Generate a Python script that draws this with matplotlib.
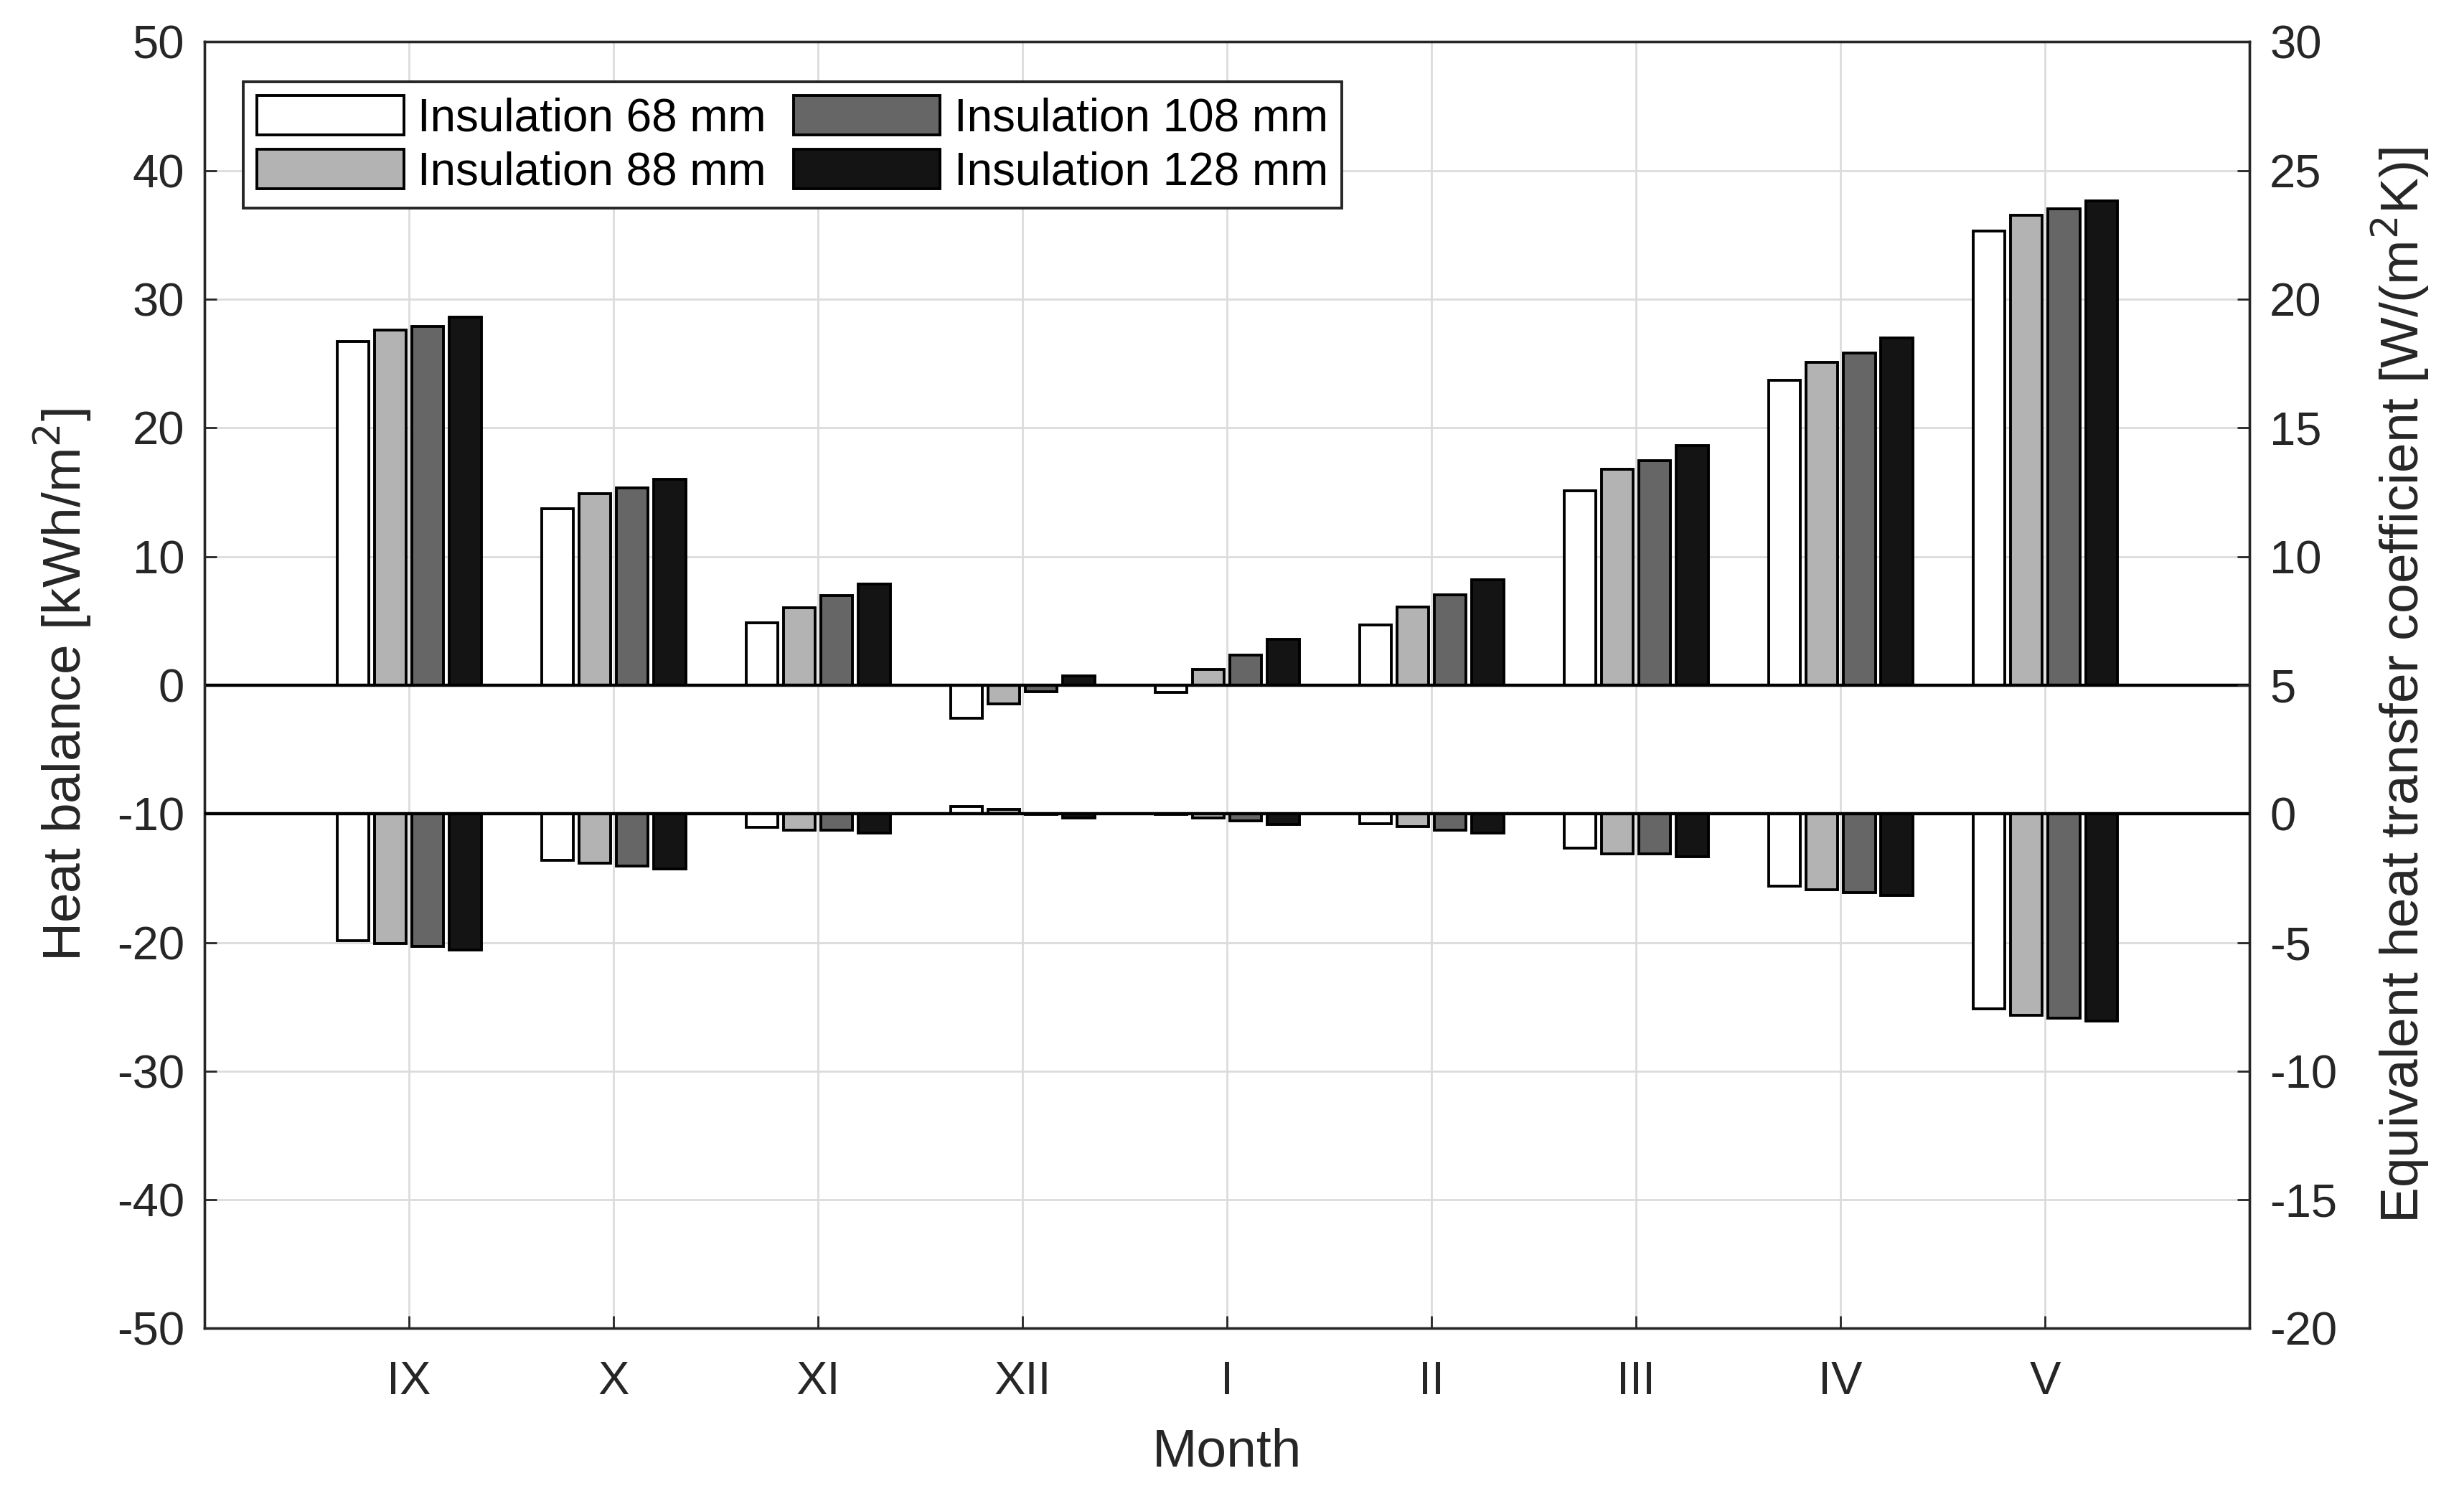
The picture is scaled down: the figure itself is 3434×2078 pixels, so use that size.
import matplotlib
matplotlib.use("Agg")
import matplotlib.pyplot as plt
import numpy as np

plt.rcParams['font.family'] = ['Liberation Sans', 'DejaVu Sans']
plt.rcParams['axes.unicode_minus'] = False

months = ["IX", "X", "XI", "XII", "I", "II", "III", "IV", "V"]
series = ["Insulation 68 mm", "Insulation 88 mm", "Insulation 108 mm", "Insulation 128 mm"]
colors = ["#ffffff", "#b3b3b3", "#666666", "#141414"]

# Heat balance [kWh/m2] (left axis)
heat_68 = [26.7, 13.7, 4.83, -2.58, -0.54, 4.67, 15.1, 23.7, 35.3]
heat_88 = [27.6, 14.9, 6.02, -1.46, 1.20, 6.07, 16.75, 25.08, 36.5]
heat_108 = [27.9, 15.3, 6.95, -0.50, 2.36, 7.00, 17.46, 25.8, 37.0]
heat_128 = [28.6, 16.0, 7.86, 0.74, 3.54, 8.19, 18.6, 27.0, 37.65]

# Equivalent heat transfer coefficient [W/(m2K)] (right axis)
coef_68 = [-4.92, -1.80, -0.52, 0.27, -0.02, -0.38, -1.32, -2.82, -7.59]
coef_88 = [-5.04, -1.92, -0.63, 0.16, -0.16, -0.51, -1.55, -2.94, -7.82]
coef_108 = [-5.15, -2.03, -0.63, -0.02, -0.28, -0.63, -1.55, -3.07, -7.93]
coef_128 = [-5.29, -2.15, -0.75, -0.17, -0.40, -0.74, -1.67, -3.18, -8.05]

heat = [heat_68, heat_88, heat_108, heat_128]
coef = [coef_68, coef_88, coef_108, coef_128]

fig = plt.figure(figsize=(17.17, 10.39), dpi=200)
ax = fig.add_axes([0.083, 0.109, 0.830, 0.863])
ax2 = ax.twinx()

x = np.arange(1, len(months) + 1)
offsets = [-0.275, -0.092, 0.092, 0.275]
width = 0.155
lw = 1.4

handles = []
for i in range(4):
    h = ax.bar(x + offsets[i], heat[i], width, color=colors[i], edgecolor='black',
               linewidth=lw, zorder=3, label=series[i])
    handles.append(h)
    ax2.bar(x + offsets[i], coef[i], width, color=colors[i], edgecolor='black',
            linewidth=lw, zorder=3)

ax.axhline(0, color='black', linewidth=1.6, zorder=4)
ax2.axhline(0, color='black', linewidth=1.6, zorder=4)

ax.set_xlim(0, 10)
ax.set_ylim(-50, 50)
ax2.set_ylim(-20, 30)
ax.set_yticks(np.arange(-50, 51, 10))
ax2.set_yticks(np.arange(-20, 31, 5))
ax.set_xticks(x)
ax.set_xticklabels(months)

ax.grid(True, color='#dcdcdc', linewidth=1.0, zorder=0)
ax.set_axisbelow(True)

tfs = 23.5
lfs = 27
for a in (ax, ax2):
    a.tick_params(direction='in', length=6, width=1.0, labelsize=tfs, colors='#262626')
    for s in a.spines.values():
        s.set_linewidth(1.2)
        s.set_color('#262626')
ax.tick_params(axis='x', pad=16)
ax.tick_params(axis='y', pad=10)
ax2.tick_params(axis='y', pad=10)

ax.set_xlabel("Month", fontsize=lfs, color='#262626', labelpad=12)
ax.set_ylabel("Heat balance [kWh/m$^2$]", fontsize=lfs, color='#262626', labelpad=12)
ax2.set_ylabel("Equivalent heat transfer coefficient [W/(m$^2$K)]", fontsize=lfs,
               color='#262626', labelpad=16)

leg = ax2.legend(handles=handles, labels=series, loc='upper left',
                 bbox_to_anchor=(0.019, 0.969), borderaxespad=0, ncol=2,
                 fontsize=23, handlelength=3.2, handleheight=0.95,
                 columnspacing=0.6, handletextpad=0.3, labelspacing=0.2,
                 borderpad=0.3, fancybox=False, framealpha=1)
leg.get_frame().set_edgecolor('#262626')
leg.get_frame().set_linewidth(1.4)

fig.savefig("out.png", dpi=200)
